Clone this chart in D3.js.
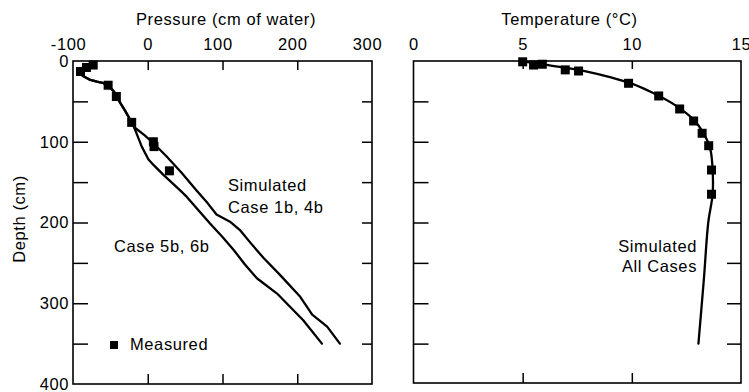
<!DOCTYPE html>
<html>
<head>
<meta charset="utf-8">
<script src="https://cdn.jsdelivr.net/npm/d3@7"></script>
<style>
  html, body { margin: 0; padding: 0; background: #fff; }
  svg { display: block; }
  text { font-family: "Liberation Sans", Arial, Helvetica, sans-serif; font-size: 16.5px; letter-spacing: 0.6px; fill: #000; }
</style>
</head>
<body>
<svg id="chart" width="749" height="392"></svg>
<script>
// ---------- data ----------
const pressureTicks = [-100, 0, 100, 200, 300];
const depthTicks = [0, 100, 200, 300, 400];
const tempTicks = [0, 5, 10, 15];

// measured pressure [pressure cm of water, depth cm]
const measuredPressure = [
  [-73, 5], [-82, 8], [-90, 13], [-53, 30], [-42, 44],
  [-21.5, 76], [7.5, 100], [8.4, 106], [29, 136]
];
// simulated pressure, Case 1b, 4b
const simCase1b4b = [
  [-94, 13], [-86, 19], [-78, 23], [-68, 25.5], [-59, 27.5], [-52, 31], [-45, 38],
  [-38, 50], [-30, 62], [-21.5, 76], [-18, 82], [-4, 92], [10, 104], [25, 118],
  [45, 138], [65, 160], [80, 176], [92, 190], [110, 199], [123, 209], [140, 228],
  [155, 244], [175, 263], [204, 292], [220, 314], [240, 329], [257, 350]
];
// simulated pressure, Case 5b, 6b
const simCase5b6b = [
  [-94, 13], [-86, 19], [-78, 23], [-68, 25.5], [-59, 27.5], [-52, 31], [-45, 38],
  [-38, 50], [-30, 62], [-21.5, 76], [-17, 85], [-8, 106], [1, 122], [8, 129],
  [21, 141], [43, 160], [52, 168], [83, 201], [100, 218], [115, 234], [130, 252],
  [146, 269], [173, 288], [208, 321], [233, 350]
];
// measured temperature [degC, depth cm]
const measuredTemp = [
  [5.0, 1], [5.5, 5], [5.9, 4], [6.95, 11], [7.56, 12.4], [9.85, 27.6], [11.23, 43.3],
  [12.19, 59.4], [12.83, 74.3], [13.22, 89.5], [13.52, 104.9], [13.65, 135], [13.65, 165]
];
// simulated temperature, all cases
const simTemp = [
  [4.9, 0], [5.5, 2.5], [6.0, 4.5], [7, 8.5], [8, 13.5], [9, 20], [10, 28], [11, 40],
  [12, 55], [12.8, 72], [13.3, 90], [13.6, 110], [13.7, 135], [13.7, 165],
  [13.5, 200], [13.3, 270], [13.05, 350]
];

// ---------- layout ----------
const svg = d3.select("#chart");
svg.append("rect").attr("width", 749).attr("height", 392).attr("fill", "#fff");

const yTop = 61, yBot = 384;
const y = d3.scaleLinear().domain([0, 400]).range([yTop, yBot]);
const xP = d3.scaleLinear().domain([-100, 300]).range([73, 372]);
const xT = d3.scaleLinear().domain([0, 15]).range([413.5, 741]);

function clean(g) {
  g.select(".domain").remove();
  g.selectAll("line").attr("stroke", "#000").attr("stroke-width", 1.5);
  g.selectAll("text").attr("fill", "#000")
    .style("font-family", '"Liberation Sans", Arial, sans-serif')
    .style("font-size", "16.5px");
  g.attr("font-family", null).attr("font-size", null);
}

const inner = [50, 100, 150, 200, 250, 300, 350];

// ----- Left panel -----
const L = svg.append("g");
// top labels
L.append("g").attr("transform", `translate(0,${yTop})`)
  .call(d3.axisTop(xP).tickValues(pressureTicks).tickSize(0).tickPadding(11).tickFormat(d => String(d)))
  .call(clean)
  .call(g => g.selectAll("text").attr("dx", d => d === 0 ? 0 : -5));
// top inner ticks
L.append("g").attr("transform", `translate(0,${yTop})`)
  .call(d3.axisBottom(xP).tickValues([0, 100, 200]).tickSize(9).tickFormat(""))
  .call(clean);
// bottom inner ticks
L.append("g").attr("transform", `translate(0,${yBot})`)
  .call(d3.axisTop(xP).tickValues([0, 100, 200]).tickSize(10).tickFormat(""))
  .call(clean);
// left labels
L.append("g").attr("transform", `translate(${xP(-100)},0)`)
  .call(d3.axisLeft(y).tickValues(depthTicks).tickSize(0).tickPadding(4))
  .call(clean);
// left inner ticks
L.append("g").attr("transform", `translate(${xP(-100)},0)`)
  .call(d3.axisRight(y).tickValues(inner).tickSize(15).tickFormat(""))
  .call(clean);
// right inner ticks
L.append("g").attr("transform", `translate(${xP(300)},0)`)
  .call(d3.axisLeft(y).tickValues(inner).tickSize(10).tickFormat(""))
  .call(clean);
// frame
L.append("rect").attr("x", xP(-100)).attr("y", yTop)
  .attr("width", xP(300) - xP(-100)).attr("height", yBot - yTop)
  .attr("fill", "none").attr("stroke", "#000").attr("stroke-width", 1.6);

const lineP = d3.line().x(d => xP(d[0])).y(d => y(d[1])).curve(d3.curveLinear);
[simCase1b4b, simCase5b6b].forEach(s => {
  L.append("path").datum(s).attr("d", lineP)
    .attr("fill", "none").attr("stroke", "#000").attr("stroke-width", 2.3)
    .attr("stroke-linejoin", "round").attr("stroke-linecap", "round");
});
const sq = 9;
L.selectAll("rect.mp").data(measuredPressure).join("rect").attr("class", "mp")
  .attr("x", d => xP(d[0]) - sq / 2).attr("y", d => y(d[1]) - sq / 2)
  .attr("width", sq).attr("height", sq).attr("fill", "#000");

L.append("text").attr("x", 226).attr("y", 25).attr("text-anchor", "middle").text("Pressure (cm of water)");
L.append("text").attr("transform", "translate(25,219) rotate(-90)").attr("text-anchor", "middle").text("Depth (cm)");
L.append("text").attr("x", 228).attr("y", 191).text("Simulated");
L.append("text").attr("x", 228).attr("y", 213).text("Case 1b, 4b");
L.append("text").attr("x", 114).attr("y", 252).text("Case 5b, 6b");
L.append("rect").attr("x", 110).attr("y", 341).attr("width", 8).attr("height", 8).attr("fill", "#000");
L.append("text").attr("x", 130).attr("y", 349.5).text("Measured");

// ----- Right panel -----
const R = svg.append("g");
R.append("g").attr("transform", `translate(0,${yTop})`)
  .call(d3.axisTop(xT).tickValues(tempTicks).tickSize(0).tickPadding(11).tickFormat(d => String(d)))
  .call(clean);
R.append("g").attr("transform", `translate(0,${yTop})`)
  .call(d3.axisBottom(xT).tickValues([5, 10]).tickSize(8).tickFormat(""))
  .call(clean);
R.append("g").attr("transform", `translate(0,${yBot - 1})`)
  .call(d3.axisTop(xT).tickValues([5, 10]).tickSize(10).tickFormat(""))
  .call(clean);
R.append("g").attr("transform", `translate(${xT(0)},0)`)
  .call(d3.axisRight(y).tickValues(inner).tickSize(15).tickFormat(""))
  .call(clean);
R.append("g").attr("transform", `translate(${xT(15)},0)`)
  .call(d3.axisLeft(y).tickValues(inner).tickSize(14).tickFormat(""))
  .call(clean);
R.append("rect").attr("x", xT(0)).attr("y", yTop)
  .attr("width", xT(15) - xT(0)).attr("height", yBot - 1 - yTop)
  .attr("fill", "none").attr("stroke", "#000").attr("stroke-width", 1.6);

const lineT = d3.line().x(d => xT(d[0])).y(d => y(d[1])).curve(d3.curveCatmullRom);
R.append("path").datum(simTemp).attr("d", lineT)
  .attr("fill", "none").attr("stroke", "#000").attr("stroke-width", 2.3)
  .attr("stroke-linecap", "round");
R.selectAll("rect.mt").data(measuredTemp).join("rect").attr("class", "mt")
  .attr("x", d => xT(d[0]) - sq / 2).attr("y", d => y(d[1]) - sq / 2)
  .attr("width", sq).attr("height", sq).attr("fill", "#000");

R.append("text").attr("x", 569.5).attr("y", 25).attr("text-anchor", "middle").text("Temperature (°C)");
R.append("text").attr("x", 697).attr("y", 252).attr("text-anchor", "end").text("Simulated");
R.append("text").attr("x", 697).attr("y", 272).attr("text-anchor", "end").text("All Cases");
</script>
</body>
</html>
